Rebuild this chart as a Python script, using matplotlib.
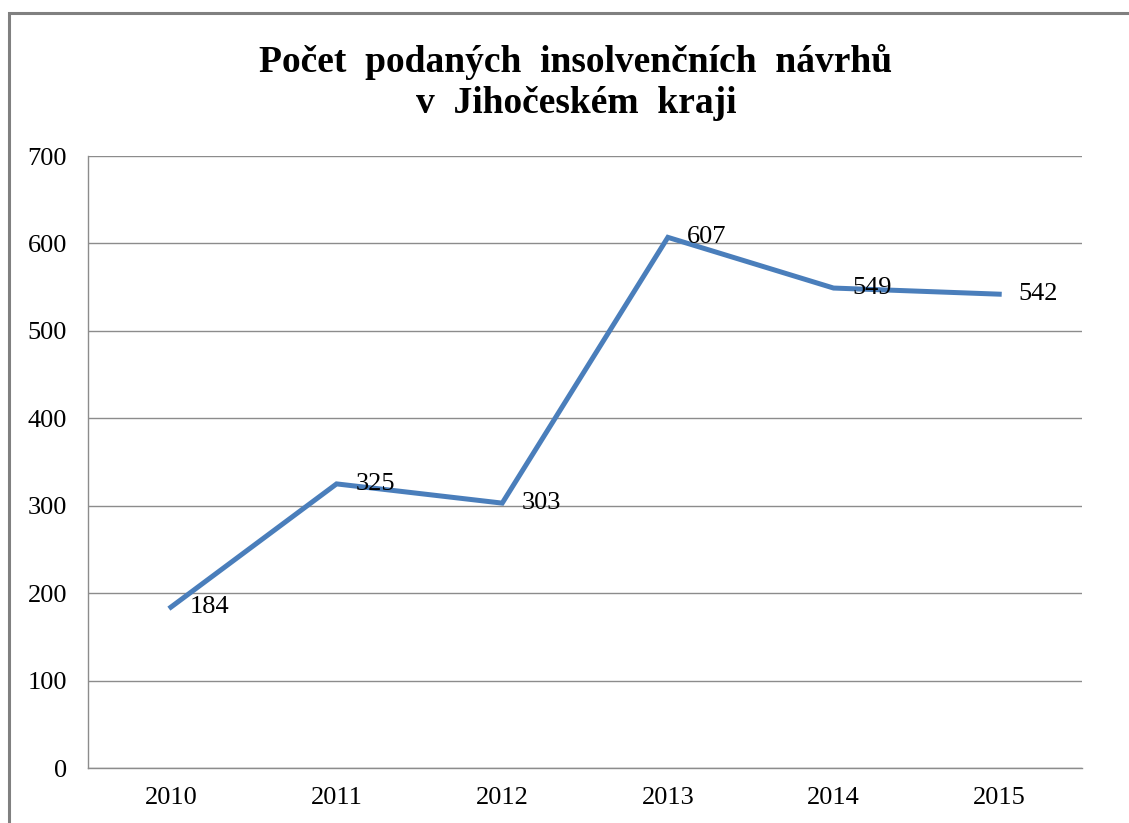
import matplotlib
matplotlib.use('Agg')
import matplotlib.pyplot as plt
import matplotlib.patches as mpatches

years = ['2010', '2011', '2012', '2013', '2014', '2015']
counts = [184, 325, 303, 607, 549, 542]
y_ticks = [0, 100, 200, 300, 400, 500, 600, 700]

plt.rcParams['font.family'] = ['Liberation Serif', 'DejaVu Serif']

fig = plt.figure(figsize=(11.29, 8.23), dpi=100)
ax = fig.add_axes([0.078, 0.0668, 0.8804, 0.7436])

x = list(range(len(years)))
ax.plot(x, counts, color='#4A7EBB', linewidth=3.6, solid_joinstyle='miter', zorder=3)

for xi, v in zip(x, counts):
    ax.annotate(str(v), xy=(xi, v), xytext=(19, 0), textcoords='offset pixels',
                ha='left', va='center', fontsize=19, color='black', zorder=4)

ax.set_xlim(-0.5, len(years) - 0.5)
ax.set_ylim(0, 700)
ax.set_yticks(y_ticks)
ax.set_xticks(x)
ax.set_xticklabels(years)
ax.yaxis.grid(True, color='#8C8C8C', linewidth=1.0)
ax.set_axisbelow(True)

for side in ['top', 'right']:
    ax.spines[side].set_visible(False)
for side in ['left', 'bottom']:
    ax.spines[side].set_color('#8C8C8C')
    ax.spines[side].set_linewidth(1.0)

ax.tick_params(axis='both', length=0, labelsize=19, colors='black')
ax.tick_params(axis='y', pad=15)
ax.tick_params(axis='x', pad=14)

fig.text(0.51, 0.9, 'Počet  podaných  insolvenčních  návrhů\nv  Jihočeském  kraji',
         ha='center', va='center', fontsize=27, fontweight='bold',
         linespacing=1.22)

border = mpatches.Rectangle((0.008, -0.05), 1.2, 1.034, transform=fig.transFigure,
                            fill=False, edgecolor='#808080', linewidth=2.2)
fig.patches.append(border)

plt.savefig('out.png', dpi=100)
plt.close()
